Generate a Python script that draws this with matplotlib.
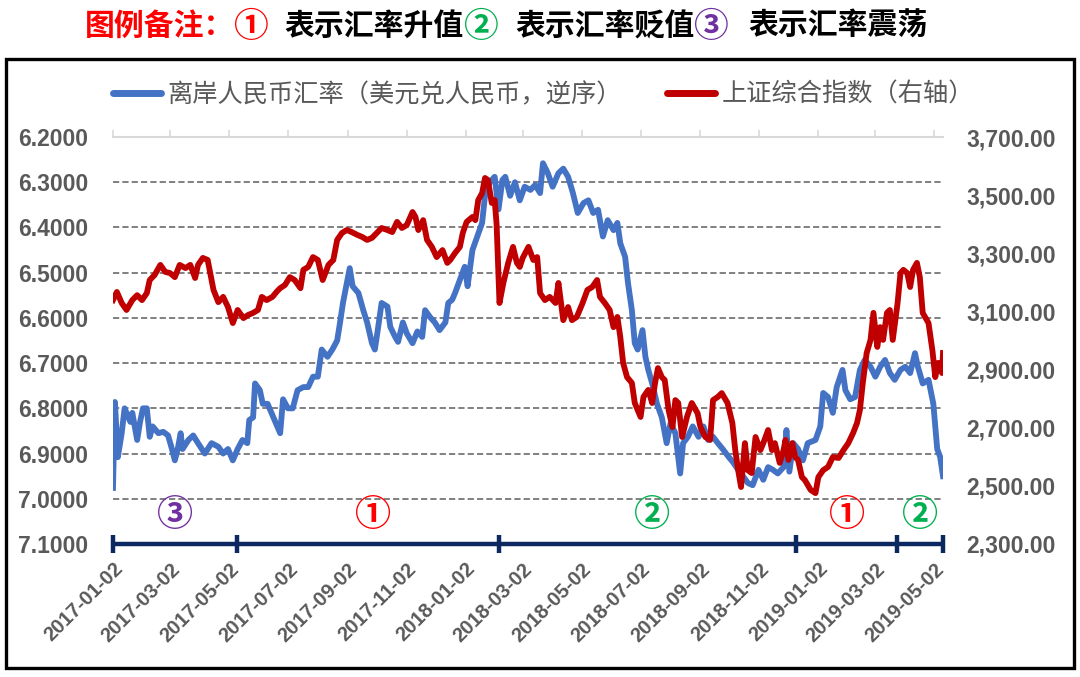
import numpy as np
import pandas as pd
import matplotlib
matplotlib.use('Agg')
import matplotlib.pyplot as plt
from matplotlib.lines import Line2D
from matplotlib.patches import Rectangle
from matplotlib.ticker import FuncFormatter

# offshore CNY (USD/CNH), day offsets from 2017-01-02
start = pd.Timestamp('2017-01-02')
cnh_days = [0, 2, 5, 9, 12, 18, 20, 25, 28, 31, 35, 38, 41, 47, 52, 57, 61, 64, 67, 70,
            72, 78, 83, 88, 95, 102, 109, 114, 119, 124, 129, 134, 139, 141, 145, 147, 152, 155, 160, 168,
            173, 176, 181, 186, 191, 197, 202, 207, 212, 216, 222, 227, 232, 235, 238, 242, 245, 248, 254, 259,
            263, 268, 271, 274, 278, 284, 287, 292, 295, 300, 304, 310, 315, 320, 323, 328, 333, 338, 344, 347,
            351, 354, 359, 364, 367, 372, 377, 382, 385, 390, 395, 399, 403, 406, 411, 416, 421, 426, 432, 437,
            442, 445, 450, 455, 461, 466, 471, 476, 481, 487, 492, 497, 502, 507, 512, 518, 522, 525, 530, 533,
            537, 540, 543, 548, 551, 554, 558, 563, 568, 573, 577, 582, 587, 590, 595, 600, 606, 611, 616, 621,
            626, 631, 637, 642, 647, 652, 657, 662, 668, 673, 678, 683, 688, 694, 697, 700, 704, 709, 714, 719,
            727, 732, 735, 740, 745, 749, 755, 758, 763, 768, 773, 778, 784, 789, 794, 799, 804, 809, 815, 820,
            825, 830, 833, 838, 844, 849, 853, 856, 859]
cnh_vals = [6.976, 6.786, 6.908, 6.855, 6.80, 6.83, 6.81, 6.87, 6.83, 6.80, 6.80, 6.863, 6.84, 6.855, 6.852, 6.86, 6.89, 6.915, 6.89, 6.855,
            6.89, 6.87, 6.86, 6.877, 6.90, 6.877, 6.885, 6.90, 6.89, 6.915, 6.89, 6.87, 6.877, 6.826, 6.82, 6.745, 6.76, 6.79, 6.79, 6.83,
            6.855, 6.78, 6.80, 6.80, 6.76, 6.753, 6.753, 6.73, 6.73, 6.67, 6.686, 6.67, 6.65, 6.61, 6.567, 6.523, 6.49, 6.53, 6.545, 6.583,
            6.61, 6.656, 6.67, 6.627, 6.567, 6.575, 6.62, 6.642, 6.653, 6.61, 6.634, 6.656, 6.63, 6.642, 6.583, 6.598, 6.61, 6.627, 6.61, 6.567,
            6.56, 6.545, 6.516, 6.487, 6.53, 6.45, 6.42, 6.39, 6.33, 6.30, 6.288, 6.36, 6.295, 6.288, 6.33, 6.30, 6.34, 6.31, 6.317, 6.306,
            6.324, 6.258, 6.28, 6.31, 6.28, 6.27, 6.288, 6.324, 6.368, 6.346, 6.34, 6.368, 6.361, 6.42, 6.384, 6.406, 6.39, 6.435, 6.465, 6.523,
            6.583, 6.656, 6.67, 6.627, 6.686, 6.715, 6.745, 6.79, 6.82, 6.877, 6.833, 6.855, 6.944, 6.877, 6.863, 6.84, 6.863, 6.84, 6.87, 6.863,
            6.877, 6.89, 6.907, 6.92, 6.936, 6.95, 6.965, 6.97, 6.936, 6.958, 6.93, 6.936, 6.944, 6.93, 6.848, 6.94, 6.877, 6.89, 6.915, 6.877,
            6.87, 6.84, 6.766, 6.775, 6.81, 6.753, 6.715, 6.76, 6.78, 6.775, 6.715, 6.693, 6.708, 6.73, 6.708, 6.693, 6.722, 6.737, 6.715, 6.708,
            6.722, 6.678, 6.708, 6.745, 6.737, 6.79, 6.89, 6.907, 6.95]

# Shanghai Composite, day offsets from 2017-01-02
sh_days = [0, 4, 9, 14, 20, 25, 30, 35, 38, 43, 49, 54, 59, 64, 69, 75, 80, 85, 88, 93,
           98, 104, 109, 114, 119, 124, 129, 135, 140, 145, 150, 154, 159, 165, 170, 173, 178, 183, 188, 194,
           197, 202, 207, 212, 217, 223, 228, 232, 237, 242, 247, 253, 258, 263, 268, 273, 278, 284, 289, 294,
           299, 304, 310, 313, 316, 321, 325, 330, 335, 341, 346, 349, 354, 359, 362, 366, 372, 375, 378, 382,
           385, 388, 392, 395, 397, 400, 404, 409, 414, 418, 421, 424, 430, 435, 439, 442, 447, 452, 458, 461,
           466, 471, 475, 480, 486, 491, 496, 501, 504, 509, 514, 518, 522, 525, 528, 532, 537, 540, 546, 549,
           554, 558, 561, 564, 568, 571, 575, 579, 582, 585, 589, 594, 599, 605, 608, 613, 618, 621, 626, 630,
           636, 641, 644, 647, 650, 654, 657, 661, 665, 670, 673, 678, 682, 685, 690, 694, 696, 699, 703, 706,
           709, 713, 716, 722, 727, 730, 735, 740, 745, 751, 756, 761, 766, 770, 773, 776, 780, 784, 787, 791,
           794, 797, 801, 804, 807, 812, 815, 818, 822, 825, 828, 832, 835, 838, 844, 848, 851, 854, 858, 859]
sh_vals = [3139, 3167, 3129, 3105, 3139, 3156, 3139, 3163, 3208, 3225, 3260, 3236, 3232, 3218, 3260, 3249, 3260, 3215, 3260, 3284,
           3277, 3174, 3132, 3150, 3115, 3060, 3105, 3077, 3088, 3095, 3105, 3150, 3139, 3150, 3170, 3180, 3191, 3218, 3208, 3180,
           3243, 3253, 3287, 3277, 3208, 3260, 3277, 3346, 3370, 3380, 3373, 3363, 3356, 3346, 3353, 3370, 3387, 3380, 3373, 3408,
           3387, 3397, 3442, 3425, 3380, 3414, 3346, 3322, 3287, 3311, 3267, 3277, 3301, 3322, 3370, 3408, 3425, 3414, 3483, 3507,
           3559, 3552, 3473, 3483, 3400, 3129, 3198, 3267, 3322, 3267, 3253, 3284, 3322, 3277, 3287, 3163, 3139, 3150, 3129, 3198,
           3070, 3115, 3070, 3081, 3129, 3174, 3184, 3208, 3150, 3129, 3105, 3046, 3081, 3012, 2922, 2874, 2854, 2785, 2737, 2806,
           2830, 2785, 2854, 2905, 2874, 2864, 2761, 2702, 2795, 2785, 2668, 2737, 2785, 2750, 2702, 2668, 2658, 2795, 2806, 2819,
           2785, 2716, 2623, 2554, 2496, 2647, 2554, 2544, 2668, 2623, 2647, 2692, 2623, 2647, 2579, 2623, 2658, 2589, 2647, 2599,
           2589, 2530, 2520, 2486, 2475, 2530, 2554, 2565, 2599, 2596, 2623, 2647, 2682, 2716, 2761, 2854, 2957, 3002, 3095, 2978,
           3046, 3002, 3095, 3105, 3002, 3129, 3232, 3243, 3232, 3184, 3243, 3267, 3218, 3095, 3060, 2967, 2874, 2923, 2888, 2957]

tick_labels = ['2017-01-02', '2017-03-02', '2017-05-02', '2017-07-02', '2017-09-02', '2017-11-02',
               '2018-01-02', '2018-03-02', '2018-05-02', '2018-07-02', '2018-09-02', '2018-11-02',
               '2019-01-02', '2019-03-02', '2019-05-02']
end_date = '2019-05-11'

# regime timeline: boundaries and labels
phase_bounds = ['2017-01-02', '2017-05-10', '2018-02-05', '2018-12-10', '2019-03-24', '2019-05-11']
phase_marks = ['③', '①', '②', '①', '②']
phase_mid = ['2017-03-07', '2017-09-28', '2018-07-14', '2019-02-01', '2019-04-17']
phase_colors = ['#7030a0', '#ff0000', '#00b050', '#ff0000', '#00b050']

cjk = ['Noto Sans CJK SC', 'DejaVu Sans']
num_font = 'Liberation Sans'
gray = '#595959'
blue = '#4472c4'
red = '#c00000'
navy = '#0b2860'

W, H = 1080, 677
fig = plt.figure(figsize=(W / 100, H / 100), dpi=100)
ax = fig.add_axes([113 / W, 1 - 544 / H, (943 - 113) / W, (544 - 137) / H])
ax2 = ax.twinx()

cnh_dates = start + pd.to_timedelta(cnh_days, unit='D')
sh_dates = start + pd.to_timedelta(sh_days, unit='D')

ax.plot(cnh_dates, cnh_vals, color=blue, lw=4.2, solid_joinstyle='round', zorder=3)
ax2.plot(sh_dates, sh_vals, color=red, lw=4.2, solid_joinstyle='round', zorder=3)

ax.set_xlim(start, pd.Timestamp(end_date))
ax.set_ylim(7.1, 6.2)
ax.set_yticks(np.arange(6.2, 7.1001, 0.1))
ax.yaxis.set_major_formatter(FuncFormatter(lambda v, p: f'{v:.4f}'))
ax2.set_ylim(2300, 3700)
ax2.set_yticks(np.arange(2300, 3701, 200))
ax2.yaxis.set_major_formatter(FuncFormatter(lambda v, p: f'{v:,.2f}'))

for v in np.arange(6.3, 7.0001, 0.1):
    ax.axhline(v, color='#808080', lw=1.4, dashes=(3.2, 1.6), zorder=1)

for a in (ax, ax2):
    for s in ('left', 'right', 'bottom'):
        a.spines[s].set_visible(False)
ax.spines['top'].set_color('#d9d9d9')
ax.spines['top'].set_linewidth(1.5)
ax2.spines['top'].set_visible(False)

ax.set_xticks(pd.to_datetime(tick_labels))
ax.set_xticklabels(tick_labels, rotation=45, ha='right', rotation_mode='anchor',
                   fontsize=14.5, fontweight='bold', color=gray, family=num_font)
ax.tick_params(axis='x', top=True, bottom=False, labelbottom=True, labeltop=False,
               direction='out', length=5, width=1.2, color='#d9d9d9', pad=6)
ax.tick_params(axis='y', length=0, pad=18, labelsize=16.5, labelcolor=gray)
ax2.tick_params(axis='y', length=0, pad=17, labelsize=16.5, labelcolor=gray)
for lab in ax.get_yticklabels() + ax2.get_yticklabels():
    lab.set_fontweight('bold')
    lab.set_family(num_font)

# timeline
bounds = pd.to_datetime(phase_bounds)
ax.plot([bounds[0], bounds[-1]], [7.1, 7.1], color=navy, lw=3.2, clip_on=False, zorder=4,
        solid_capstyle='butt')
ax.vlines(bounds, 7.081, 7.119, color=navy, lw=3.2, clip_on=False, zorder=4)
for m, d, c in zip(phase_marks, phase_mid, phase_colors):
    ax.text(pd.Timestamp(d), 7.036, m, color=c, fontsize=26, fontweight='bold',
            ha='center', va='center', family=cjk, zorder=5)

# legend
handles = [Line2D([], [], color=blue, lw=5, solid_capstyle='round'),
           Line2D([], [], color=red, lw=5, solid_capstyle='round')]
fig.legend(handles, ['离岸人民币汇率（美元兑人民币，逆序）', '上证综合指数（右轴）'],
           loc='center left', bbox_to_anchor=(113 / W, 1 - 95 / H), ncol=2, frameon=False,
           prop={'family': cjk, 'size': 18.2}, labelcolor=gray, handlelength=1.9,
           handletextpad=0.25, columnspacing=1.8, borderpad=0, borderaxespad=0)

# outer frame
fig.patches.append(Rectangle((6 / W, 1 - 668 / H), (1074 - 6) / W, (668 - 59) / H,
                             transform=fig.transFigure, fill=False, ec='black', lw=2.4))

# title, pieces placed left to right
pieces = [('图例备注：', '#ff0000', 85, 'left', 21.5), ('①', '#ff0000', 250, 'center', 25),
          ('表示汇率升值', 'black', 284, 'left', 21.5), ('②', '#00b050', 480, 'center', 25),
          ('表示汇率贬值', 'black', 515, 'left', 21.5), ('③', '#7030a0', 710, 'center', 25),
          ('表示汇率震荡', 'black', 748, 'left', 21.5)]
for txt, col, px, ha, fs in pieces:
    fig.text(px / W, 1 - 26 / H, txt, color=col, fontsize=fs, fontweight='bold',
             family=cjk, ha=ha, va='center')

fig.savefig('out.png', dpi=100)
